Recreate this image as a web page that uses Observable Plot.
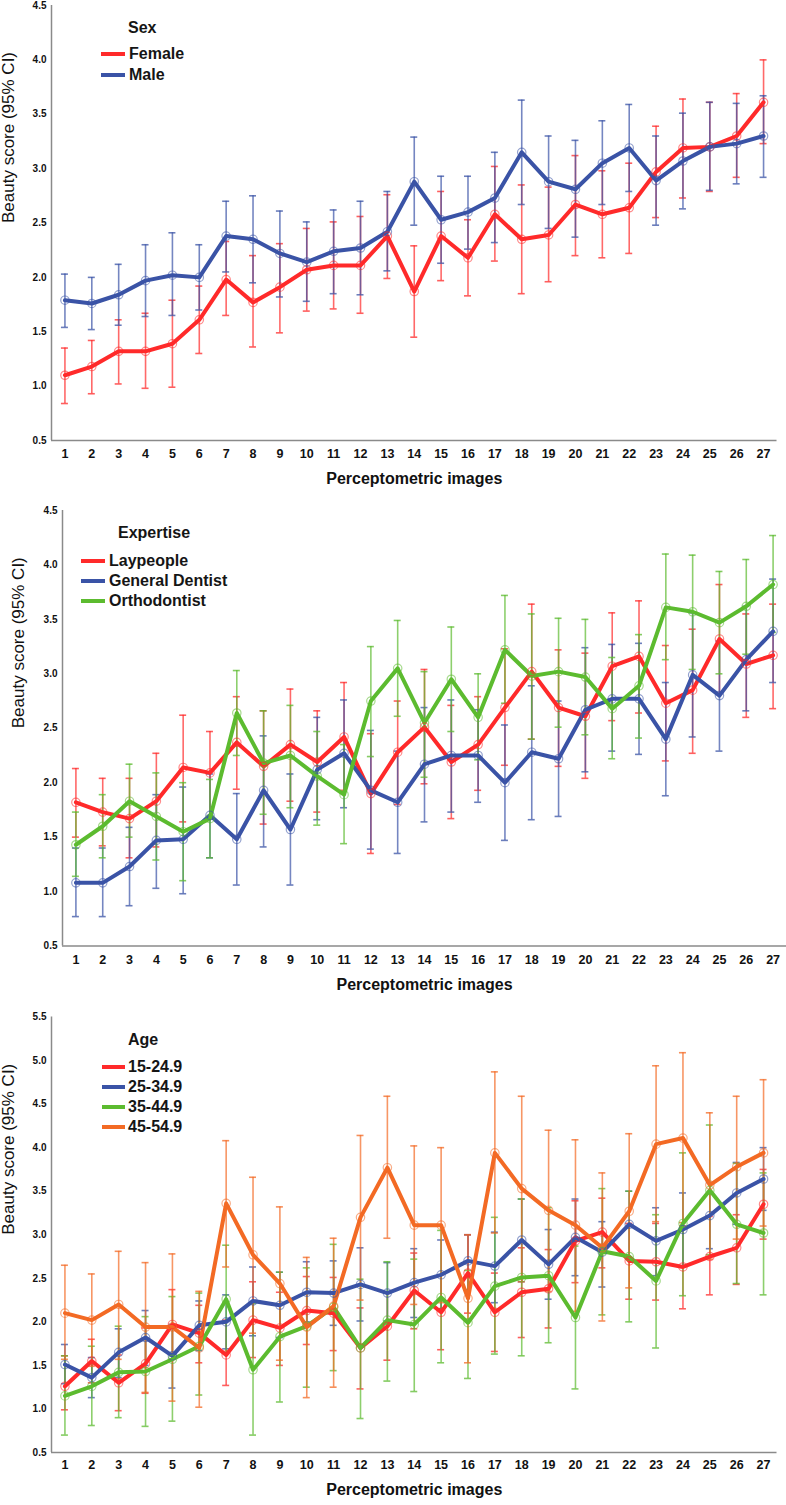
<!DOCTYPE html>
<html>
<head>
<meta charset="utf-8">
<script src="https://cdn.jsdelivr.net/npm/d3@7"></script>
<script src="https://cdn.jsdelivr.net/npm/@observablehq/plot@0.6"></script>
<style>
html, body { margin: 0; padding: 0; background: #fff; }
#wrap { position: relative; width: 786px; height: 1505px; overflow: hidden; font-family: "Liberation Sans", Arial, sans-serif; }
.panel { position: absolute; left: 0; }
.lg { position: absolute; font-weight: bold; font-size: 16px; color: #151515; line-height: 20px; height: 20px; white-space: nowrap; }
.sw { position: absolute; height: 3.5px; }
</style>
</head>
<body>
<div id="wrap"></div>
<script>
// ---------- shared ----------
const images = [1,2,3,4,5,6,7,8,9,10,11,12,13,14,15,16,17,18,19,20,21,22,23,24,25,26,27];
const yTitle = "Beauty score (95% CI)";
const xTitle = "Perceptometric images";

// ---------- Panel 1: Sex ----------
const sexTitle = "Sex";
const sexNames = ["Female", "Male"];
const sexColors = ["#ff2a2a", "#3a53a6"];
const femaleMean = [1.10,1.18,1.32,1.32,1.39,1.61,1.98,1.77,1.91,2.07,2.11,2.11,2.38,1.87,2.38,2.18,2.58,2.35,2.39,2.67,2.58,2.64,2.97,3.19,3.20,3.30,3.61];
const femaleHi   = [1.35,1.42,1.61,1.67,1.79,1.92,2.33,2.20,2.31,2.45,2.51,2.56,2.76,2.29,2.79,2.53,3.02,2.85,2.83,3.12,2.98,3.05,3.39,3.64,3.61,3.69,4.00];
const femaleLo   = [0.84,0.93,1.02,0.98,0.99,1.30,1.65,1.36,1.49,1.69,1.71,1.67,1.99,1.45,1.97,1.83,2.15,1.85,1.96,2.20,2.18,2.22,2.55,2.73,2.79,2.92,3.23];
const maleMean   = [1.79,1.76,1.84,1.97,2.02,2.00,2.38,2.35,2.22,2.14,2.24,2.27,2.42,2.88,2.53,2.60,2.73,3.15,2.88,2.81,3.05,3.19,2.89,3.07,3.20,3.23,3.30];
const maleHi     = [2.03,2.00,2.12,2.30,2.41,2.30,2.70,2.75,2.61,2.51,2.62,2.70,2.79,3.29,2.93,2.93,3.15,3.63,3.30,3.26,3.44,3.59,3.30,3.51,3.61,3.60,3.67];
const maleLo     = [1.54,1.52,1.56,1.64,1.65,1.70,2.05,1.95,1.82,1.78,1.85,1.84,2.06,2.48,2.13,2.26,2.32,2.67,2.45,2.37,2.67,2.79,2.48,2.63,2.80,2.86,2.92];

// ---------- Panel 2: Expertise ----------
const expTitle = "Expertise";
const expNames = ["Laypeople", "General Dentist", "Orthodontist"];
const expColors = ["#ff2a2a", "#3a53a6", "#5cbb2f"];
const layMean = [1.82,1.73,1.67,1.83,2.14,2.09,2.37,2.15,2.35,2.19,2.42,1.90,2.28,2.51,2.19,2.35,2.69,3.02,2.69,2.61,3.07,3.16,2.73,2.85,3.32,3.09,3.17];
const layHi   = [2.13,2.04,2.04,2.27,2.62,2.47,2.79,2.66,2.86,2.66,2.92,2.45,2.75,3.04,2.71,2.79,3.23,3.64,3.22,3.19,3.56,3.67,3.26,3.41,3.82,3.55,3.64];
const layLo   = [1.50,1.42,1.31,1.41,1.64,1.67,1.94,1.62,1.83,1.73,1.93,1.35,1.80,1.99,1.67,1.93,2.16,2.40,2.15,2.04,2.57,2.64,2.20,2.27,2.82,2.60,2.68];
const gdMean  = [1.08,1.08,1.23,1.47,1.48,1.70,1.48,1.93,1.57,2.12,2.27,1.93,1.82,2.17,2.25,2.25,2.00,2.28,2.22,2.67,2.77,2.77,2.40,2.99,2.80,3.13,3.39];
const gdHi    = [1.40,1.40,1.59,1.89,1.96,2.08,1.90,2.43,2.08,2.60,2.76,2.48,2.29,2.69,2.76,2.67,2.53,2.89,2.75,3.24,3.27,3.28,2.92,3.56,3.30,3.62,3.87];
const gdLo    = [0.77,0.77,0.87,1.03,0.98,1.31,1.06,1.41,1.06,1.66,1.77,1.39,1.35,1.64,1.73,1.82,1.47,1.66,1.69,2.10,2.29,2.26,1.88,2.42,2.29,2.66,2.92];
const orthoMean = [1.43,1.60,1.83,1.69,1.55,1.67,2.64,2.18,2.25,2.06,1.89,2.75,3.05,2.55,2.95,2.60,3.22,2.98,3.02,2.97,2.68,2.89,3.61,3.57,3.47,3.62,3.82];
const orthoHi   = [1.73,1.89,2.17,2.09,2.00,2.03,3.03,2.66,2.71,2.47,2.35,3.25,3.49,3.02,3.43,3.00,3.72,3.55,3.51,3.50,3.15,3.36,4.10,4.09,3.94,4.05,4.27];
const orthoLo   = [1.14,1.31,1.50,1.29,1.10,1.31,2.25,1.71,1.77,1.61,1.44,2.24,2.61,2.05,2.47,2.21,2.73,2.40,2.51,2.44,2.22,2.41,3.13,3.04,3.00,3.18,3.38];

// ---------- Panel 3: Age ----------
const ageTitle = "Age";
const ageNames = ["15-24.9", "25-34.9", "35-44.9", "45-54.9"];
const ageColors = ["#ff2a2a", "#3a53a6", "#5cbb2f", "#f36a24"];
const a15Mean = [1.26,1.55,1.30,1.52,1.97,1.87,1.62,2.02,1.93,2.13,2.10,1.70,1.95,2.36,2.11,2.56,2.11,2.34,2.38,2.93,3.03,2.70,2.69,2.63,2.75,2.85,3.35];
const a15Hi   = [1.61,1.80,1.62,1.93,2.37,2.19,2.02,2.46,2.34,2.52,2.51,2.16,2.33,2.79,2.54,3.00,2.56,2.85,2.83,3.39,3.42,3.13,3.13,3.10,3.21,3.23,3.75];
const a15Lo   = [0.99,1.30,0.98,1.18,1.57,1.53,1.27,1.59,1.50,1.74,1.67,1.23,1.56,1.92,1.68,2.10,1.66,1.82,1.93,2.45,2.62,2.26,2.25,2.15,2.31,2.43,2.95];
const a25Mean = [1.51,1.36,1.65,1.82,1.61,1.96,2.00,2.24,2.19,2.34,2.33,2.43,2.33,2.45,2.54,2.70,2.64,2.94,2.66,2.97,2.80,3.12,2.93,3.06,3.22,3.48,3.64];
const a25Hi   = [1.74,1.59,1.92,2.13,1.97,2.24,2.31,2.63,2.57,2.69,2.70,2.85,2.68,2.84,2.94,3.00,3.03,3.41,3.06,3.41,3.15,3.50,3.31,3.48,3.60,3.83,4.00];
const a25Lo   = [1.29,1.13,1.36,1.50,1.24,1.67,1.69,1.84,1.82,2.00,1.96,2.01,2.01,2.05,2.15,2.37,2.22,2.46,2.26,2.53,2.40,2.72,2.53,2.64,2.84,3.12,3.28];
const a35Mean = [1.15,1.26,1.42,1.43,1.57,1.72,2.26,1.45,1.83,1.95,2.17,1.70,2.02,1.97,2.28,1.99,2.41,2.51,2.53,2.05,2.81,2.75,2.47,3.13,3.51,3.12,3.02];
const a35Hi   = [1.61,1.72,1.95,2.06,2.29,2.33,2.88,2.21,2.57,2.62,2.89,2.49,2.69,2.72,3.05,2.59,3.20,3.41,3.31,2.87,3.53,3.50,3.23,3.94,4.26,3.82,3.71];
const a35Lo   = [0.70,0.81,0.90,0.80,0.86,1.16,1.64,0.70,1.08,1.25,1.44,0.89,1.32,1.20,1.53,1.35,1.63,1.61,1.76,1.23,2.08,2.00,1.70,2.30,2.77,2.44,2.31];
const a45Mean = [2.10,2.02,2.20,1.94,1.94,1.70,3.36,2.77,2.44,1.94,2.18,3.20,3.77,3.11,3.11,2.27,3.94,3.53,3.28,3.11,2.85,3.27,4.04,4.11,3.57,3.78,3.94];
const a45Hi   = [2.65,2.55,2.81,2.68,2.78,2.35,4.08,3.66,3.32,2.74,2.96,4.14,4.59,4.02,4.00,3.00,4.87,4.59,4.20,4.09,3.71,4.16,4.94,5.09,4.40,4.59,4.78];
const a45Lo   = [1.57,1.49,1.57,1.19,1.09,1.02,2.63,1.87,1.56,1.13,1.25,2.25,2.96,2.20,2.22,1.53,3.02,2.46,2.35,2.12,2.01,2.39,3.15,3.14,2.72,2.95,3.10];

const yTicks45 = [0.5,1.0,1.5,2.0,2.5,3.0,3.5,4.0,4.5];
const yTicks55 = [0.5,1.0,1.5,2.0,2.5,3.0,3.5,4.0,4.5,5.0,5.5];

// ---------- builder ----------
const FONT = "Liberation Sans, Arial, sans-serif";
const CAP = 0.13;

function rowsFor(mean, lo, hi) {
  return images.map((img, i) => ({img, mean: mean[i], lo: lo[i], hi: hi[i]}));
}

function makePanel(cfg) {
  const series = cfg.series.map(s => ({...s, rows: rowsFor(s.mean, s.lo, s.hi)}));
  const errMarks = series.flatMap(s => [
    Plot.ruleX(s.rows, {x: "img", y1: "lo", y2: "hi", stroke: s.color, strokeWidth: 1.6, strokeOpacity: 0.7}),
    Plot.ruleY(s.rows, {y: "lo", x1: d => d.img - CAP, x2: d => d.img + CAP, stroke: s.color, strokeWidth: 1.6, strokeOpacity: 0.75}),
    Plot.ruleY(s.rows, {y: "hi", x1: d => d.img - CAP, x2: d => d.img + CAP, stroke: s.color, strokeWidth: 1.6, strokeOpacity: 0.75})
  ]);
  const lineMarks = series.map(s =>
    Plot.line(s.rows, {x: "img", y: "mean", stroke: s.color, strokeWidth: 4, strokeLinejoin: "round"}));
  const dotMarks = series.map(s =>
    Plot.dot(s.rows, {x: "img", y: "mean", r: 4.2, stroke: s.color, strokeOpacity: 0.55, strokeWidth: 1.2, fill: "none"}));
  return Plot.plot({
    width: 786,
    height: cfg.height,
    marginTop: cfg.marginTop,
    marginBottom: cfg.marginBottom,
    marginLeft: cfg.marginLeft,
    marginRight: cfg.marginRight,
    style: {fontFamily: FONT, background: "white", color: "#111", overflow: "visible"},
    x: {domain: [0.5, 27.5]},
    y: {domain: cfg.yDomain},
    marks: [
      Plot.axisX({ticks: images, tickSize: 0, tickPadding: cfg.xPad, fontSize: 12.5, fontWeight: "bold", label: null, tickFormat: d => String(d)}),
      Plot.axisY({ticks: cfg.yTicks, tickSize: 0, tickPadding: 5, fontSize: 10, fontWeight: "bold", label: null, tickFormat: d => d.toFixed(1)}),
      ...errMarks,
      ...lineMarks,
      ...dotMarks,
      Plot.ruleX([0.5], {stroke: "#8a8a8a", strokeWidth: 1.5}),
      Plot.ruleY([cfg.yDomain[0]], {stroke: "#8a8a8a", strokeWidth: 1.5}),
      Plot.text([yTitle], {text: d => d, frameAnchor: "left", dx: cfg.yTitleDx, rotate: -90, fontSize: 17, fill: "#111"}),
      Plot.text([xTitle], {text: d => d, frameAnchor: "bottom", dy: cfg.xTitleDy, fontSize: 16, fontWeight: "bold", fill: "#111"})
    ]
  });
}

function addLegend(wrap, title, names, colors, lg) {
  const t = document.createElement("div");
  t.className = "lg";
  t.textContent = title;
  t.style.left = lg.titleX + "px";
  t.style.top = (lg.titleY - 10) + "px";
  wrap.appendChild(t);
  names.forEach((n, i) => {
    const cy = lg.itemY[i];
    const sw = document.createElement("div");
    sw.className = "sw";
    sw.style.left = lg.swX + "px";
    sw.style.width = lg.swW + "px";
    sw.style.top = (cy - 1.75) + "px";
    sw.style.background = colors[i];
    wrap.appendChild(sw);
    const d = document.createElement("div");
    d.className = "lg";
    d.textContent = n;
    d.style.left = lg.textX + "px";
    d.style.top = (cy - 10) + "px";
    wrap.appendChild(d);
  });
}

const wrap = document.getElementById("wrap");

function place(svg, top) {
  const holder = document.createElement("div");
  holder.className = "panel";
  holder.style.top = top + "px";
  holder.appendChild(svg);
  wrap.appendChild(holder);
}

// Panel 1
place(makePanel({
  height: 500, marginTop: 5, marginBottom: 60, marginLeft: 51, marginRight: 9.5,
  yDomain: [0.5, 4.5], yTicks: yTicks45, xPad: 9, yTitleDx: -42.5, xTitleDy: 43,
  series: [
    {color: sexColors[0], mean: femaleMean, lo: femaleLo, hi: femaleHi},
    {color: sexColors[1], mean: maleMean, lo: maleLo, hi: maleHi}
  ]
}), 0);
addLegend(wrap, sexTitle, sexNames, sexColors, {titleX: 128, titleY: 28, itemY: [54, 75], swX: 101, swW: 24, textX: 129});

// Panel 2
place(makePanel({
  height: 505, marginTop: 10, marginBottom: 59.5, marginLeft: 62, marginRight: 0,
  yDomain: [0.5, 4.5], yTicks: yTicks45, xPad: 9.3, yTitleDx: -43.5, xTitleDy: 43.5,
  series: [
    {color: expColors[0], mean: layMean, lo: layLo, hi: layHi},
    {color: expColors[1], mean: gdMean, lo: gdLo, hi: gdHi},
    {color: expColors[2], mean: orthoMean, lo: orthoLo, hi: orthoHi}
  ]
}), 500);
addLegend(wrap, expTitle, expNames, expColors, {titleX: 118, titleY: 533, itemY: [561, 581, 601], swX: 81, swW: 24, textX: 109});

// Panel 3
place(makePanel({
  height: 500, marginTop: 11.5, marginBottom: 53, marginLeft: 51, marginRight: 9.5,
  yDomain: [0.5, 5.5], yTicks: yTicks55, xPad: 8, yTitleDx: -42.5, xTitleDy: 42,
  series: [
    {color: ageColors[0], mean: a15Mean, lo: a15Lo, hi: a15Hi},
    {color: ageColors[1], mean: a25Mean, lo: a25Lo, hi: a25Hi},
    {color: ageColors[2], mean: a35Mean, lo: a35Lo, hi: a35Hi},
    {color: ageColors[3], mean: a45Mean, lo: a45Lo, hi: a45Hi}
  ]
}), 1005);
addLegend(wrap, ageTitle, ageNames, ageColors, {titleX: 128, titleY: 1040, itemY: [1067, 1087, 1107, 1127], swX: 102, swW: 23, textX: 128});
</script>
</body>
</html>
